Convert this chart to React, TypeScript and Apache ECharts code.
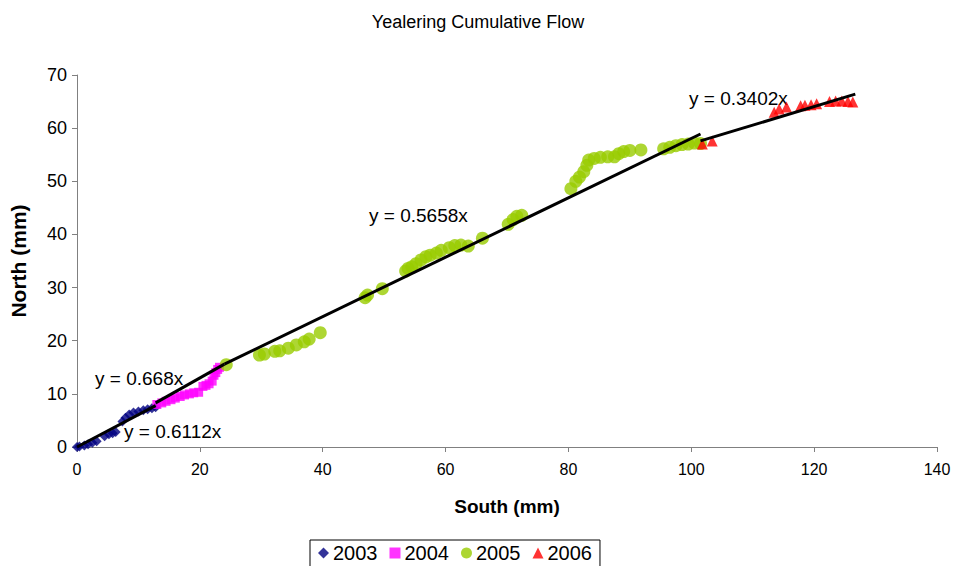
import React, { useEffect, useRef } from "react";
import * as echarts from "echarts";

const xTicks = { min: 0, max: 140, interval: 20 };
const yTicks = { min: 0, max: 70, interval: 10 };

const s2003: number[][] = [
  [0, 0], [0.4, 0.1], [1.2, 0.3], [1.8, 0.5], [2.5, 0.8], [3.2, 1.1], [4.5, 2.0], [5.2, 2.4],
  [5.8, 2.6], [6.3, 2.8], [7.4, 4.8], [7.9, 5.5], [8.5, 6.1], [9.2, 6.5], [10.0, 6.7],
  [10.8, 6.9], [11.5, 7.1], [12.2, 7.3], [12.8, 7.5],
];
const s2004: number[][] = [
  [13.0, 8.0], [13.8, 8.3], [14.5, 8.6], [15.3, 8.9], [16.0, 9.2], [16.8, 9.5], [17.5, 9.8],
  [18.3, 10.0], [19.0, 10.2], [19.8, 10.3], [20.5, 11.4], [21.0, 11.6], [21.5, 11.9],
  [22.0, 12.4], [22.3, 13.5], [22.6, 14.0], [22.9, 14.6], [23.2, 15.0],
];
const s2005: number[][] = [
  [24.3, 15.5], [29.7, 17.3], [30.5, 17.5], [32.2, 18.0], [33.0, 18.1], [34.4, 18.6],
  [35.7, 19.2], [37.0, 19.8], [37.8, 20.3], [39.6, 21.5], [46.9, 28.1], [47.3, 28.6],
  [49.7, 29.8], [53.5, 33.1], [53.9, 33.6], [54.5, 33.9], [55.2, 34.5], [56.0, 35.2],
  [56.8, 35.8], [57.5, 36.1], [58.5, 36.5], [59.3, 37.0], [60.6, 37.5], [61.5, 37.9],
  [62.5, 38.0], [63.7, 37.8], [66.0, 39.3], [70.2, 41.9], [71.0, 42.8], [71.6, 43.4],
  [72.4, 43.6], [80.4, 48.6], [81.2, 50.0], [81.8, 50.8], [82.5, 51.8], [83.0, 53.0],
  [83.3, 54.0], [84.2, 54.3], [85.2, 54.5], [86.4, 54.6], [87.5, 54.6], [88.2, 55.2],
  [89.0, 55.6], [90.0, 55.8], [91.8, 55.9], [95.5, 56.1], [96.5, 56.4], [97.5, 56.7],
  [98.5, 56.9], [99.5, 57.0], [100.5, 57.2], [101.5, 57.1],
];
const s2006: number[][] = [
  [101.8, 57.0], [103.4, 57.6], [113.5, 63.0], [114.3, 63.6], [115.5, 64.0], [117.8, 64.2],
  [118.5, 64.3], [119.5, 64.4], [120.4, 64.6], [122.5, 65.0], [123.5, 65.1], [124.5, 65.1],
  [125.5, 65.0], [126.3, 64.9],
];

const trend2003: number[][] = [[0, 0], [12.8, 7.8]];
const trend2004: number[][] = [[12.8, 8.3], [24.0, 15.6]];
const trend2005: number[][] = [[24.0, 15.6], [101.5, 58.9]];
const trend2006: number[][] = [[101.5, 57.6], [126.7, 66.4]];

const trendLabels = ["y = 0.6112x", "y = 0.668x", "y = 0.5658x", "y = 0.3402x"];
const years = ["2003", "2004", "2005", "2006"];

const FONT = "Liberation Sans, Arial, sans-serif";

export default function App() {
  const ref = useRef<HTMLDivElement>(null);
  useEffect(() => {
    if (!ref.current) return;
    const chart = echarts.init(ref.current, null, { renderer: "svg" });
    const lineSeries = (data: number[][]) => ({
      type: "line",
      data,
      symbol: "none",
      silent: true,
      z: 5,
      lineStyle: { color: "#000", width: 3 },
    });
    chart.setOption({
      animation: false,
      backgroundColor: "#fff",
      textStyle: { fontFamily: FONT },
      title: {
        text: "Yealering Cumulative Flow",
        left: "center",
        top: 8,
        textStyle: { fontFamily: FONT, fontSize: 18, fontWeight: "normal", color: "#000" },
      },
      grid: { left: 75, right: 19, top: 75, bottom: 119, containLabel: false },
      xAxis: {
        type: "value",
        ...xTicks,
        name: "South (mm)",
        nameLocation: "middle",
        nameGap: 50,
        nameTextStyle: { fontFamily: FONT, fontSize: 19, fontWeight: "bold", color: "#000" },
        axisLine: { show: true, lineStyle: { color: "#808080", width: 1 } },
        axisTick: { show: true, inside: false, length: 5, lineStyle: { color: "#808080" } },
        axisLabel: { fontFamily: FONT, fontSize: 16, color: "#000", margin: 14 },
        splitLine: { show: false },
      },
      yAxis: {
        type: "value",
        ...yTicks,
        name: "North (mm)",
        nameLocation: "middle",
        nameGap: 48,
        nameTextStyle: { fontFamily: FONT, fontSize: 21, fontWeight: "bold", color: "#000" },
        axisLine: { show: true, lineStyle: { color: "#808080", width: 1 } },
        axisTick: { show: true, inside: false, length: 5, lineStyle: { color: "#808080" } },
        axisLabel: { fontFamily: FONT, fontSize: 18, color: "#000", margin: 10 },
        splitLine: { show: false },
      },
      legend: {
        data: years,
        left: 310,
        top: 540,
        orient: "horizontal",
        borderColor: "#000",
        borderWidth: 1,
        padding: [3, 8, 8, 8],
        itemGap: 12,
        itemWidth: 11,
        itemHeight: 11,
        textStyle: { fontFamily: FONT, fontSize: 20, color: "#000", padding: [0, 0, 0, -1] },
      },
      graphic: [
        { type: "text", left: 124, top: 422, style: { text: trendLabels[0], font: `19px ${FONT}`, fill: "#000" } },
        { type: "text", left: 95, top: 369, style: { text: trendLabels[1], font: `19px ${FONT}`, fill: "#000" } },
        { type: "text", left: 369, top: 206, style: { text: trendLabels[2], font: `19px ${FONT}`, fill: "#000" } },
        { type: "text", left: 689, top: 89, style: { text: trendLabels[3], font: `19px ${FONT}`, fill: "#000" } },
      ],
      series: [
        { name: years[0], type: "scatter", data: s2003, symbol: "diamond", symbolSize: 10, itemStyle: { color: "#000080" }, z: 2 },
        { name: years[1], type: "scatter", data: s2004, symbol: "rect", symbolSize: 9, itemStyle: { color: "#FF00FF" }, z: 2 },
        { name: years[2], type: "scatter", data: s2005, symbol: "circle", symbolSize: 13, itemStyle: { color: "#99CC00" }, z: 2 },
        { name: years[3], type: "scatter", data: s2006, symbol: "triangle", symbolSize: 11, itemStyle: { color: "#FF0000" }, z: 2 },
        lineSeries(trend2003),
        lineSeries(trend2004),
        lineSeries(trend2005),
        lineSeries(trend2006),
      ],
    });
    return () => chart.dispose();
  }, []);
  return <div ref={ref} style={{ position: "fixed", left: 0, top: 0, width: 956, height: 566 }} />;
}
